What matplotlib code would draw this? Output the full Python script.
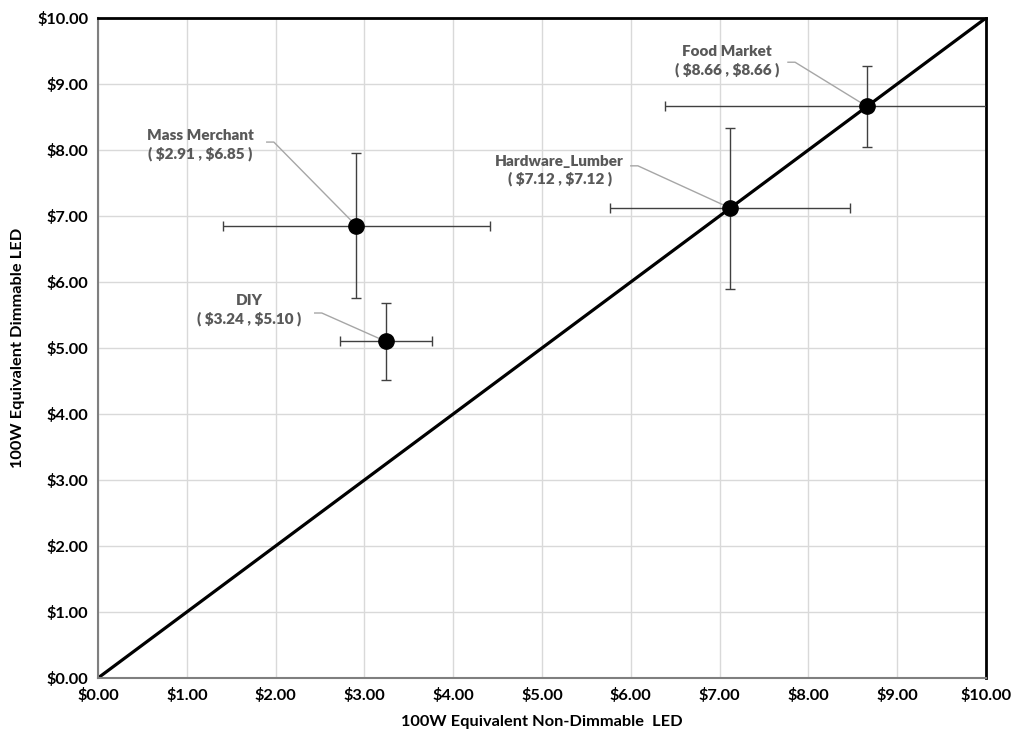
import matplotlib
matplotlib.use("Agg")
import matplotlib.pyplot as plt
from matplotlib.ticker import FuncFormatter, MultipleLocator

plt.rcParams['font.family'] = ['Lato', 'DejaVu Sans']

# Channel price points (non-dimmable vs dimmable 100W-equivalent LED)
channels = ["Mass Merchant", "DIY", "Hardware_Lumber", "Food Market"]
non_dimmable = [2.91, 3.24, 7.12, 8.66]
dimmable = [6.85, 5.10, 7.12, 8.66]
x_err = [1.50, 0.52, 1.35, 2.27]
y_err = [1.10, 0.58, 1.22, 0.62]
# label anchor positions (data units)
label_x = [1.15, 1.70, 5.20, 7.08]
label_y = [8.08, 5.57, 7.69, 9.35]
leader_start_x = [1.90, 2.44, 6.00, 7.77]
leader_start_y = [8.12, 5.53, 7.76, 9.33]

fig = plt.figure(figsize=(10.15, 7.35), dpi=100)
ax = fig.add_axes([0.0966, 0.0776, 0.8748, 0.8979])

ax.set_xlim(0, 10)
ax.set_ylim(0, 10)
ax.xaxis.set_major_locator(MultipleLocator(1))
ax.yaxis.set_major_locator(MultipleLocator(1))
fmt = FuncFormatter(lambda v, p: f"\\${v:.2f}")
ax.xaxis.set_major_formatter(fmt)
ax.yaxis.set_major_formatter(fmt)
ax.grid(True, color="#d9d9d9", linewidth=1.0, zorder=0)
ax.tick_params(length=0, labelsize=11.8, pad=7)
for lbl in ax.get_xticklabels() + ax.get_yticklabels():
    lbl.set_fontweight("bold")

# parity line
ax.plot([0, 10], [0, 10], color="black", linewidth=2.3, zorder=2)

ax.errorbar(non_dimmable, dimmable, xerr=x_err, yerr=y_err, fmt="o",
            color="black", markersize=11, ecolor="#404040", elinewidth=1.0,
            capsize=3.5, capthick=1.0, zorder=3)

for name, px, py, lx, ly, sx, sy in zip(channels, non_dimmable, dimmable,
                                        label_x, label_y, leader_start_x, leader_start_y):
    # leader: short horizontal stub from the label, then straight to the point
    stub = sx + 0.08
    ax.plot([sx, stub, px], [sy, sy, py], color="#a6a6a6", linewidth=1.0, zorder=2.5)
    ax.text(lx, ly, f"{name}\n( \\${px:.2f} , \\${py:.2f} )", ha="center", va="center",
            fontsize=11, fontweight="heavy", color="#595959", linespacing=1.35, zorder=4)

for side in ("left", "bottom"):
    ax.spines[side].set_color("#7f7f7f")
    ax.spines[side].set_linewidth(1.5)
for side in ("top", "right"):
    ax.spines[side].set_color("black")
    ax.spines[side].set_linewidth(2.0)

ax.set_xlabel("100W Equivalent Non-Dimmable  LED", fontsize=11.8, fontweight="bold", labelpad=9)
ax.set_ylabel("100W Equivalent Dimmable LED", fontsize=11.8, fontweight="bold", labelpad=9)

fig.savefig("out.png", dpi=100, facecolor="white")
